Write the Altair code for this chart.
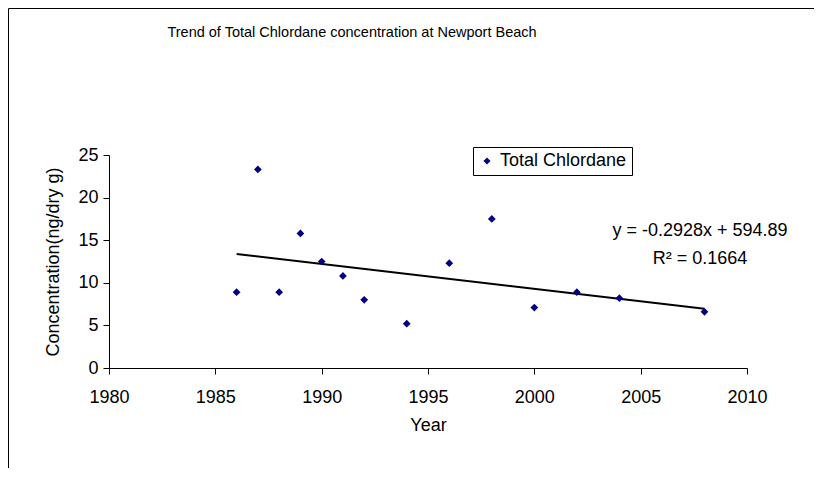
import altair as alt
import pandas as pd

years = [1986, 1987, 1988, 1989, 1990, 1991, 1992, 1994, 1996, 1998, 2000, 2002, 2004, 2008]
conc = [8.9, 23.3, 8.9, 15.8, 12.5, 10.8, 8.0, 5.2, 12.3, 17.5, 7.1, 8.9, 8.2, 6.6]
series_name = ["Total Chlordane"] * len(years)

slope = -0.2928
intercept = 594.89
trend_years = [1986, 2008]
trend_vals = [slope * y + intercept for y in trend_years]

title_text = ["Trend of Total Chlordane concentration at Newport Beach"]
eq_text = ["y = -0.2928x + 594.89"]
r2_text = ["R² = 0.1664"]

FONT = "Liberation Sans"

df = pd.DataFrame({"Year": years, "Concentration": conc, "Series": series_name})
tdf = pd.DataFrame({"Year": trend_years, "Concentration": trend_vals})

W, H = 638, 213

xscale = alt.Scale(domain=[1980, 2010], nice=False, zero=False)
yscale = alt.Scale(domain=[0, 25], nice=False)

common = dict(grid=False, tickSize=6, domainColor="black", tickColor="black",
              labelColor="black", titleColor="black", labelFont=FONT, titleFont=FONT,
              labelFontSize=18, titleFontSize=18, titleFontWeight="normal")
xaxis = alt.Axis(values=[1980, 1985, 1990, 1995, 2000, 2005, 2010], format="d",
                 title="Year", labelPadding=14, titlePadding=10, labelFlush=False,
                 labelOverlap=False, **common)
yaxis = alt.Axis(values=[0, 5, 10, 15, 20, 25], title="Concentration(ng/dry g)",
                 labelPadding=5, titlePadding=15, **common)

points = alt.Chart(df).mark_point(shape="diamond", filled=True, size=60, opacity=1).encode(
    x=alt.X("Year:Q", scale=xscale, axis=xaxis),
    y=alt.Y("Concentration:Q", scale=yscale, axis=yaxis),
    color=alt.Color("Series:N", scale=alt.Scale(range=["#000080"]),
                    legend=alt.Legend(title=None, orient="none", legendX=364, legendY=-8,
                                      strokeColor="black", padding=5, symbolType="diamond",
                                      symbolSize=50, labelFontSize=18, labelFont=FONT,
                                      labelColor="black", fillColor="white")),
)

trend = alt.Chart(tdf).mark_line(color="black", strokeWidth=2).encode(
    x=alt.X("Year:Q", scale=xscale),
    y=alt.Y("Concentration:Q", scale=yscale),
)

eq = alt.Chart(pd.DataFrame({"t": eq_text})).mark_text(
    font=FONT, fontSize=18, color="black", align="center", baseline="middle"
).encode(text="t:N", x=alt.value(591), y=alt.value(76))

r2 = alt.Chart(pd.DataFrame({"t": r2_text})).mark_text(
    font=FONT, fontSize=18, color="black", align="center", baseline="middle"
).encode(text="t:N", x=alt.value(591), y=alt.value(104))

title = alt.Chart(pd.DataFrame({"t": title_text})).mark_text(
    font=FONT, fontSize=14.5, color="black", align="center", baseline="middle"
).encode(text="t:N", x=alt.value(243), y=alt.value(-122))

border = alt.Chart(pd.DataFrame({"a": [0]})).mark_rect(
    fill=None, stroke="black", strokeWidth=1, clip=False
).encode(x=alt.value(-100.5), x2=alt.value(800), y=alt.value(-146.5), y2=alt.value(400))

chart = alt.layer(border, title, trend, points, eq, r2).properties(
    width=W, height=H,
    autosize=alt.AutoSizeParams(type="none"),
    padding={"left": 101, "top": 147, "right": 67, "bottom": 100},
    background="white",
).configure_view(strokeWidth=0)

chart.save("out.html", embed_options={"renderer": "svg", "actions": False})
